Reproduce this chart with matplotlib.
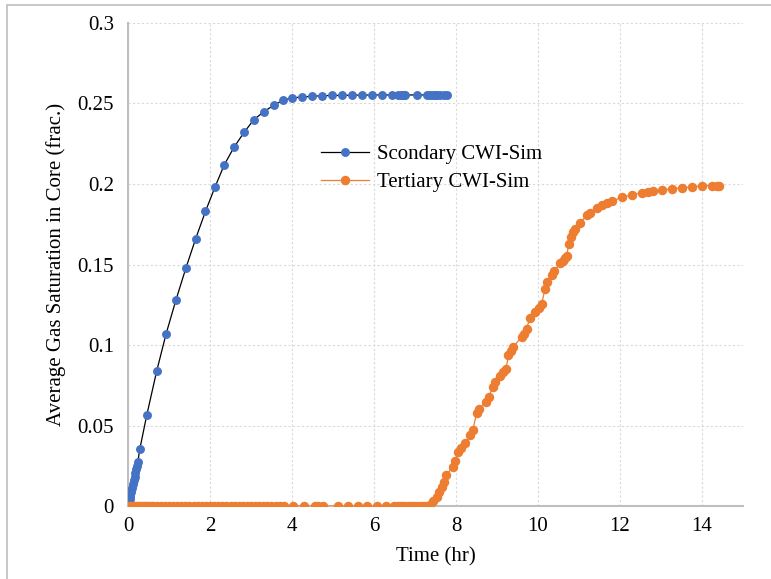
import numpy as np
import matplotlib.pyplot as plt
from matplotlib.patches import Rectangle

# Secondary CWI simulation (time in hr, gas saturation frac.)
sec_time = [0, 0.01, 0.02, 0.03, 0.04, 0.05, 0.06, 0.08, 0.10, 0.12, 0.14, 0.16,
            0.18, 0.20, 0.22, 0.24, 0.29, 0.46, 0.70, 0.93, 1.17, 1.41, 1.65,
            1.89, 2.12, 2.35, 2.59, 2.83, 3.07, 3.32, 3.56, 3.78, 4.00, 4.24,
            4.49, 4.73, 4.98, 5.22, 5.46, 5.71, 5.95, 6.20, 6.44, 6.59, 6.65,
            6.68, 6.72, 6.76, 7.05, 7.29, 7.37, 7.44, 7.50, 7.54, 7.61, 7.70, 7.78]
sec_sat = [0, 0.001, 0.002, 0.0035, 0.0045, 0.006, 0.007, 0.009, 0.0115, 0.014,
           0.016, 0.018, 0.0205, 0.023, 0.025, 0.0275, 0.0356, 0.0567, 0.0838,
           0.107, 0.128, 0.1476, 0.166, 0.183, 0.198, 0.212, 0.223, 0.232,
           0.240, 0.245, 0.249, 0.252, 0.2535, 0.254, 0.2545, 0.2548, 0.255,
           0.255, 0.2552, 0.2552, 0.2553, 0.2553, 0.2553, 0.2553, 0.2553,
           0.2553, 0.2553, 0.2553, 0.2553, 0.2553, 0.2553, 0.2553, 0.2553,
           0.2553, 0.2553, 0.2553, 0.2553]

# Tertiary CWI simulation
ter_time = [0, 0.05, 0.10, 0.15, 0.20, 0.25, 0.30, 0.35, 0.40, 0.45, 0.50, 0.55,
            0.60, 0.70, 0.80, 0.90, 1.00, 1.10, 1.20, 1.30, 1.40, 1.50, 1.60,
            1.70, 1.80, 1.90, 2.00, 2.10, 2.20, 2.30, 2.40, 2.52, 2.60, 2.70,
            2.80, 2.90, 3.00, 3.10, 3.20, 3.30, 3.40, 3.50, 3.60, 3.70, 3.80,
            4.02, 4.30, 4.55, 4.63, 4.75, 5.11, 5.36, 5.60, 5.84, 6.08, 6.29,
            6.49, 6.58, 6.66, 6.74, 6.82, 6.90, 6.98, 7.06, 7.14, 7.22, 7.30,
            7.37, 7.45, 7.53, 7.59, 7.65, 7.70, 7.76, 7.92, 7.97, 8.06, 8.11,
            8.22, 8.34, 8.41, 8.50, 8.55, 8.73, 8.80, 8.90, 8.96, 9.07, 9.15,
            9.22, 9.28, 9.34, 9.40, 9.60, 9.65, 9.72, 9.80, 9.93, 10.02, 10.09,
            10.17, 10.21, 10.33, 10.40, 10.54, 10.60, 10.65, 10.70, 10.75, 10.80,
            10.85, 10.90, 11.02, 11.19, 11.27, 11.45, 11.55, 11.68, 11.81, 12.06,
            12.29, 12.53, 12.69, 12.80, 13.03, 13.28, 13.52, 13.76, 13.99, 14.24,
            14.36, 14.42]
ter_sat = [0] * 67 + [
    0.0006, 0.003, 0.0058, 0.009, 0.012, 0.015, 0.019, 0.0244, 0.028, 0.0337,
    0.036, 0.039, 0.044, 0.047, 0.0576, 0.060, 0.0648, 0.068, 0.074, 0.077,
    0.0807, 0.083, 0.085, 0.0938, 0.096, 0.099, 0.105, 0.107, 0.110, 0.1166,
    0.1207, 0.123, 0.1253, 0.135, 0.139, 0.1435, 0.146, 0.1507, 0.152, 0.154,
    0.155, 0.163, 0.167, 0.170, 0.172, 0.1756, 0.1807, 0.1822, 0.1853, 0.187,
    0.188, 0.1896, 0.1917, 0.1934, 0.1946, 0.1952, 0.1957, 0.1963, 0.197,
    0.1977, 0.1983, 0.1988, 0.199, 0.199, 0.199]

plt.rcParams['font.family'] = ['Liberation Serif', 'DejaVu Serif']

fig = plt.figure(figsize=(7.71, 5.79), dpi=100)
ax = fig.add_axes([0.166, 0.126, 0.7977, 0.8343])

ax.plot(sec_time, sec_sat, color='black', lw=0.9, marker='o', ms=5.4,
        mfc='#4472C4', mec='#4472C4', label='Scondary CWI-Sim', zorder=3)
ax.plot(ter_time, ter_sat, color='#ED7D31', lw=0.9, marker='o', ms=5.8,
        mfc='#ED7D31', mec='#ED7D31', label='Tertiary CWI-Sim', zorder=4)

ax.set_xlim(0, 15)
ax.set_ylim(0, 0.3)
ax.set_xticks([0, 2, 4, 6, 8, 10, 12, 14])
ax.set_yticks([0, 0.05, 0.1, 0.15, 0.2, 0.25, 0.3])
ax.set_yticklabels(['0', '0.05', '0.1', '0.15', '0.2', '0.25', '0.3'])
ax.tick_params(length=0, labelsize=15, pad=8)
ax.tick_params(axis='y', pad=10)

ax.grid(True, color='#d9d9d9', ls=(0, (2, 2)), lw=0.8)
for s in ['top', 'right']:
    ax.spines[s].set_visible(False)
for s in ['left', 'bottom']:
    ax.spines[s].set_color('#bfbfbf')
    ax.spines[s].set_linewidth(1.5)

ax.set_xlabel('Time (hr)', fontsize=15, labelpad=8)
ax.set_ylabel('Average Gas Saturation in Core (frac.)', fontsize=15, labelpad=8)

ax.legend(loc='upper left', bbox_to_anchor=(0.392, 0.783),
          bbox_transform=fig.transFigure, frameon=False, fontsize=15,
          handlelength=2.3, handletextpad=0.4, labelspacing=0.4)

# outer chart border (partially cropped)
fig.patches.append(Rectangle((7 / 771, -0.2), 1.5, 1.2 - 5 / 579,
                             transform=fig.transFigure, fill=False,
                             edgecolor='#bfbfbf', lw=1.2))

fig.savefig('out.png', dpi=100)
